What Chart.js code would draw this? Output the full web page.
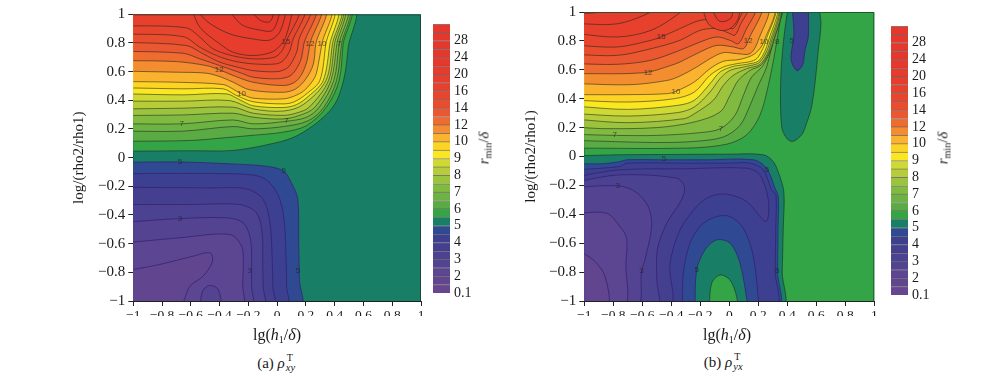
<!DOCTYPE html>
<html><head><meta charset="utf-8">
<script src="https://cdn.jsdelivr.net/npm/chart.js@4"></script>
<style>
html,body{margin:0;padding:0;background:#fff;width:1000px;height:378px;overflow:hidden}
canvas{position:absolute;display:block}
.t{position:absolute;font:16px "Liberation Serif",serif;color:#1a1a1a;white-space:nowrap;transform:translate(-50%,-50%)}
.t sub{font-size:10px;vertical-align:-3px;line-height:0}
.r{transform:translate(-50%,-50%) rotate(-90deg);font-size:15px}
.st{display:inline-block;position:relative;width:18px;height:10px}
.st b{position:absolute;left:2px;top:-6px;font-weight:normal;font-size:10px}
.st u{position:absolute;left:1px;top:4px;text-decoration:none;font-style:italic;font-size:10.5px}
</style></head><body>
<canvas id="ca" width="370" height="330" style="left:60px;top:0"></canvas>
<canvas id="ba" width="50" height="320" style="left:430px;top:0"></canvas>
<canvas id="cb" width="372" height="330" style="left:512px;top:0"></canvas>
<canvas id="bb" width="50" height="320" style="left:888px;top:0"></canvas>
<div class="t" style="left:277px;top:335px">lg(<i>h</i><sub>1</sub>/<i>δ</i>)</div>
<div class="t" style="left:727px;top:335px">lg(<i>h</i><sub>1</sub>/<i>δ</i>)</div>
<div class="t" style="left:280px;top:363px;font-size:15px">(a) <i>ρ</i><span class="st"><b>T</b><u>xy</u></span></div>
<div class="t" style="left:727px;top:362px;font-size:15px">(b) <i>ρ</i><span class="st"><b>T</b><u>yx</u></span></div>
<div class="t r" style="left:484px;top:148px"><i>r</i><sub>min</sub>/<i>δ</i></div>
<div class="t r" style="left:943px;top:148px"><i>r</i><sub>min</sub>/<i>δ</i></div>
<script>
const AXIS_TICKS=[-1,-0.8,-0.6,-0.4,-0.2,0,0.2,0.4,0.6,0.8,1];
const BAR_LABELS=['0.1','2','3','4','5','6','7','8','9','10','12','14','16','20','24','28',''];
const LEVELS=[0.1,1,2,2.5,3,3.5,4,4.5,5,5.5,6,6.5,7,7.5,8,8.5,9,9.5,10,11,12,13,14,15,16,18,20,22,24,26,28,30];
const BAND_COLORS=['#66468f','#62458f','#5c4591','#534391','#4b4291','#453f90','#3d3f90','#2f4a92','#187f66','#33a547','#5aab44','#6cb344','#80ba41','#9cc33e','#b6cc3a','#cfd933','#fbe622','#fdd423','#fbb32f','#f48d30','#ee6c30','#ea5730','#e94d2e','#e8452e','#e7412d','#e63d2d','#e63b2d','#e5392d','#e5382c','#e5382c','#e5372c','#e5372c'];

// Panel (a): rising contours (upper left)
const A55=[[-1.05,.045],[-.6,.048],[-.31,.05],[-.07,.09],[.11,.14],[.251,.224],[.367,.328],[.425,.421],[.471,.584],[.494,.77],[.526,1.05]];
const A60=[[-1.05,.114],[-.6,.12],[-.35,.14],[-.19,.154],[.043,.178],[.205,.224],[.344,.354],[.431,.538],[.459,.795],[.5,1.05]];
const A65=[[-1.05,.185],[-.653,.185],[-.306,.217],[-.167,.201],[.043,.217],[.216,.257],[.325,.352],[.413,.538],[.448,.795],[.487,1.05]];
const A70=[[-1.05,.236],[-.66,.236],[-.306,.263],[-.167,.236],[.065,.254],[.205,.282],[.293,.352],[.394,.538],[.431,.795],[.473,1.05]];
const A75=[[-1.05,.294],[-.653,.298],[-.306,.31],[-.167,.282],[.043,.27],[.17,.3],[.263,.352],[.374,.538],[.415,.795],[.452,1.05]];
const A80=[[-1.05,.34],[-.653,.345],[-.306,.352],[-.167,.31],[.043,.295],[.13,.31],[.223,.352],[.357,.538],[.399,.795],[.44,1.05]];
const A85=[[-1.05,.394],[-.653,.394],[-.329,.398],[-.167,.34],[.043,.325],[.181,.37],[.339,.538],[.385,.795],[.428,1.05]];
const A90=[[-1.05,.445],[-.653,.438],[-.352,.445],[-.259,.403],[-.167,.362],[.043,.35],[.135,.37],[.22,.43],[.32,.538],[.367,.795],[.405,1.05]];
const A95=[[-1.05,.487],[-.653,.48],[-.375,.48],[-.282,.433],[-.167,.39],[.043,.375],[.12,.39],[.21,.45],[.297,.538],[.339,.795],[.38,1.05]];
const A100=[[-1.05,.531],[-.7,.526],[-.375,.51],[-.306,.478],[-.248,.445],[-.167,.415],[.043,.41],[.12,.43],[.19,.47],[.262,.56],[.286,.65],[.311,.795],[.36,1.05]];
const A110=[[-1.05,.603],[-.7,.596],[-.491,.589],[-.387,.561],[-.306,.526],[-.19,.473],[.043,.456],[.13,.48],[.2,.55],[.251,.65],[.269,.795],[.325,1.05]];
const A120=[[-1.05,.677],[-.7,.67],[-.491,.642],[-.403,.614],[-.306,.573],[-.167,.526],[.043,.503],[.12,.525],[.17,.58],[.209,.68],[.228,.795],[.29,1.05]];
const A130=[[-1.05,.742],[-.653,.728],[-.537,.689],[-.398,.642],[-.25,.59],[-.167,.561],[0,.55],[.09,.57],[.14,.63],[.17,.7],[.186,.795],[.255,1.05]];
const A140=[[-1.05,.805],[-.63,.782],[-.514,.724],[-.398,.666],[-.25,.625],[-.167,.607],[0,.6],[.07,.625],[.11,.68],[.14,.75],[.15,.82],[.22,1.05]];
const A150=[[-1.05,.863],[-.653,.844],[-.537,.77],[-.421,.712],[-.306,.675],[-.167,.654],[0,.655],[.05,.685],[.09,.75],[.105,.81],[.18,1.05]];
const A160=[[-1.05,.921],[-.63,.905],[-.537,.84],[-.444,.758],[-.306,.71],[-.167,.689],[-.02,.7],[.03,.74],[.061,.805],[.14,1.05]];
const A180=[[-.6,1.05],[-.537,.909],[-.398,.793],[-.306,.735],[-.167,.712],[-.04,.735],[.02,.78],[.06,.84],[.115,1.05]];
const A200=[[-.58,1.05],[-.479,.944],[-.329,.863],[-.167,.828],[-.05,.82],[.02,.88],[.07,1.05]];
const A220=[[-.35,1.05],[-.25,.93],[-.12,.89],[-.03,.89],[.03,1.05]];
const A240=[[-.2,1.05],[-.12,.96],[-.05,.95],[-.01,1.05]];
// Panel (a): falling contours (lower left)
const A_L50=[[-1.05,-.032],[-.676,-.03],[-.352,-.042],[-.074,-.06],[.046,-.095],[.111,-.2],[.144,-.292],[.15,-.6],[.155,-.85],[.157,-1.05]];
const A_L45=[[-1.05,-.111],[-.4,-.111],[-.144,-.125],[-.05,-.176],[.019,-.292],[.05,-.45],[.062,-.7],[.066,-.9],[.067,-1.05]];
const A_L40=[[-1.05,-.207],[-.468,-.211],[-.213,-.218],[-.097,-.292],[-.05,-.455],[-.035,-.7],[-.03,-.9],[-.028,-1.05]];
const A_L35=[[-1.05,-.327],[-.583,-.327],[-.26,-.327],[-.144,-.385],[-.105,-.524],[-.1,-.75],[-.097,-.9],[-.097,-1.05]];
const A_L30=[[-1.05,-.45],[-.676,-.425],[-.352,-.42],[-.236,-.455],[-.185,-.57],[-.178,-.8],[-.178,-.9],[-.178,-1.05]];
const A_L25=[[-1.05,-.594],[-.676,-.559],[-.329,-.536],[-.248,-.617],[-.235,-.733],[-.24,-.88],[-.248,-1.05]];
const A_L20=[[-1.05,-.79],[-.815,-.745],[-.583,-.687],[-.468,-.664],[-.449,-.722],[-.514,-.826],[-.606,-.896],[-.688,-1.05]];
const A_LOBE=[[-.537,-1.05],[-.518,-.93],[-.468,-.891],[-.41,-.919],[-.382,-1.05]];
const A_NOTES=[[-.664,.236,'7'],[.065,.254,'7'],[-.248,.445,'10'],[-.403,.614,'12'],[.061,.805,'15'],[.228,.795,'12'],[.311,.795,'10'],[.431,.795,'7'],[-.676,-.03,'5'],[.046,-.095,'5'],[-.676,-.425,'3'],[-.19,-.786,'3'],[.144,-.786,'5']];

// Panel (b): rising contours (upper left)
const B60=[[-1.05,.058],[-.294,.058],[-.018,.085],[.12,.15],[.211,.285],[.269,.492],[.315,.723],[.349,.93],[.362,1.05]];
const B65=[[-1.05,.111],[-.524,.097],[-.248,.104],[-.041,.135],[.074,.216],[.143,.354],[.2,.492],[.257,.619],[.315,.862],[.345,1.05]];
const B70=[[-1.05,.153],[-.78,.146],[-.5,.146],[-.202,.165],[-.06,.193],[.039,.285],[.097,.423],[.154,.55],[.234,.631],[.306,.797],[.335,1.05]];
const B75=[[-1.05,.204],[-.885,.193],[-.5,.2],[-.241,.239],[-.064,.308],[.005,.423],[.062,.527],[.143,.596],[.223,.636],[.297,.781],[.328,1.05]];
const B80=[[-1.05,.257],[-.7,.234],[-.31,.262],[-.241,.296],[-.11,.389],[-.041,.492],[.028,.562],[.12,.608],[.218,.642],[.287,.781],[.32,1.05]];
const B85=[[-1.05,.296],[-.7,.28],[-.356,.304],[-.241,.343],[-.133,.446],[-.064,.539],[.005,.596],[.12,.624],[.211,.654],[.28,.792],[.316,1.05]];
const B90=[[-1.05,.347],[-.7,.326],[-.356,.354],[-.241,.389],[-.133,.504],[-.064,.585],[.028,.624],[.12,.638],[.207,.666],[.271,.804],[.31,1.05]];
const B95=[[-1.05,.389],[-.7,.377],[-.38,.4],[-.241,.446],[-.133,.562],[-.041,.619],[.051,.642],[.154,.659],[.2,.689],[.257,.815],[.302,1.05]];
const B100=[[-1.05,.428],[-.7,.428],[-.425,.435],[-.368,.451],[-.241,.516],[-.133,.608],[-.041,.659],[.074,.672],[.177,.712],[.239,.797],[.295,1.05]];
const B110=[[-1.05,.504],[-.68,.497],[-.425,.527],[-.34,.557],[-.225,.619],[-.133,.677],[-.041,.719],[.051,.712],[.143,.712],[.2,.804],[.255,1.05]];
const B120=[[-1.05,.573],[-.586,.58],[-.4,.631],[-.34,.654],[-.202,.723],[-.087,.769],[.028,.758],[.097,.746],[.131,.804],[.21,1.05]];
const B130=[[-1.05,.642],[-.77,.638],[-.54,.666],[-.34,.735],[-.202,.792],[-.087,.827],[.005,.804],[.062,.781],[.108,.862],[.175,1.05]];
const B140=[[-1.05,.705],[-.77,.7],[-.54,.746],[-.34,.804],[-.202,.873],[-.087,.885],[.005,.85],[.039,.839],[.074,.908],[.13,1.05]];
const B150=[[-1.05,.769],[-.77,.758],[-.54,.804],[-.47,.827],[-.34,.885],[-.202,.942],[-.087,.942],[-.007,.896],[.028,.885],[.074,.965],[.1,1.05]];
const B160=[[-1.05,.85],[-.77,.827],[-.54,.873],[-.333,1],[-.3,1.05]];
const B180_L=[[-1.05,.919],[-.77,.919],[-.54,1],[-.5,1.05]];
const B200_L=[[-1.05,.99],[-.9,1],[-.8,1.05]];
const B160_C=[[-.191,1.05],[-.145,.919],[-.064,.873],[.005,.885],[.062,.954],[.074,1.05]];
const B180_C=[[-.133,1.05],[-.076,.942],[-.03,.935],[.016,.965],[.028,1.05]];
// Panel (b): teal lens and inner lobe at upper right
const B_LENS=[[.407,1.05],[.372,.783],[.354,.507],[.361,.207],[.395,.127],[.437,.104],[.499,.15],[.533,.23],[.568,.346],[.591,.507],[.614,.737],[.632,.922],[.614,1.05]];
const B_LOBE=[[.43,1.05],[.446,.852],[.425,.691],[.437,.634],[.469,.594],[.506,.634],[.522,.737],[.545,.829],[.545,1.05]];
// Panel (b): lower-left basin
const B_L55=[[-1.05,.005],[-.754,.012],[-.4,.014],[-.018,.016],[.234,.012],[.303,-.035],[.349,-.139],[.377,-.254],[.372,-.5],[.365,-.8],[.361,-1.05]];
const B_L50=[[-1.05,-.05],[-.869,-.05],[-.754,-.035],[-.708,-.023],[-.455,-.023],[-.15,-.023],[.166,-.023],[.257,-.081],[.315,-.219],[.338,-.277],[.336,-.5],[.333,-.8],[.331,-1.05]];
const B_L45=[[-1.05,-.092],[-.754,-.069],[-.708,-.046],[-.3,-.046],[0,-.046],[.143,-.046],[.234,-.092],[.292,-.231],[.322,-.266],[.32,-.5],[.317,-.8],[.315,-1.05]];
const B_L40=[[-1.05,-.139],[-.754,-.092],[-.3,-.085],[.12,-.081],[.211,-.127],[.269,-.3],[.253,-.45],[.12,-.312],[-.018,-.261],[-.133,-.277],[-.225,-.346],[-.34,-.508],[-.409,-.74],[-.416,-1.05]];
const B_L35=[[-1.05,-.173],[-.754,-.127],[-.363,-.15],[-.31,-.208],[-.329,-.3],[-.432,-.462],[-.497,-.647],[-.5,-.85],[-.501,-1.05]];
const B_L30=[[-1.05,-.212],[-.766,-.203],[-.651,-.242],[-.559,-.346],[-.536,-.485],[-.582,-.716],[-.605,-.792],[-.639,-1.05]];
const B_L25=[[-1.05,-.393],[-.846,-.393],[-.754,-.485],[-.708,-.566],[-.713,-.739],[-.726,-1.05]];
const B_L20=[[-1.05,-.647],[-.938,-.716],[-.857,-.831],[-.841,-1.05]];
const B_H45=[[-.324,-1.05],[-.317,-.808],[-.271,-.6],[-.191,-.473],[-.087,-.416],[.005,-.416],[.097,-.497],[.166,-.693],[.207,-1.05]];
const B_H50=[[-.237,-1.05],[-.225,-.785],[-.168,-.647],[-.087,-.577],[.005,-.6],[.074,-.739],[.131,-1.05]];
const B_H55=[[-.138,-1.05],[-.122,-.878],[-.064,-.82],[.005,-.855],[.051,-.97],[.055,-1.05]];
const B_NOTES=[[-.79,.15,'7'],[-.06,.193,'7'],[-.368,.451,'10'],[-.56,.58,'12'],[-.47,.827,'15'],[.131,.804,'12'],[.239,.797,'10'],[.33,.797,'8'],[.43,.8,'5'],[-.45,-.013,'5'],[.26,-.09,'5'],[-.77,-.203,'3'],[-.605,-.792,'3'],[-.225,-.785,'5'],[.33,-.79,'5']];

const TL=[-1.05,1.05], BL=[-1.05,-1.05], WHOLE=[[-1.05,-1.05],[1.05,-1.05],[1.05,1.05],[-1.05,1.05]];
const DARK='rgba(28,36,30,.62)', PURP='rgba(50,32,110,.8)', NONE='rgba(0,0,0,0)';
function band(lo){return BAND_COLORS[LEVELS.indexOf(lo)];}
function layers(list){
  return list.map((l,i)=>({
    data:(l.corner?l.pts.concat([l.corner]):l.pts).map(p=>({x:p[0],y:p[1]})),
    showLine:true,fill:'shape',backgroundColor:band(l.lo),borderColor:l.line||DARK,
    borderWidth:l.line===NONE?0:0.9,pointRadius:0,tension:l.line===NONE?0:0.32,capBezierPoints:false,
    clip:0,order:list.length-i
  }));
}
const up=(pts,lo)=>({pts,lo,corner:TL}), dn=(pts,lo,line)=>({pts,lo,corner:BL,line:line||PURP}), sh=(pts,lo,line)=>({pts,lo,line:line||DARK});
const PANEL_A=[{pts:WHOLE,lo:5,line:NONE},up(A55,5.5),up(A60,6),up(A65,6.5),up(A70,7),up(A75,7.5),up(A80,8),up(A85,8.5),up(A90,9),up(A95,9.5),up(A100,10),up(A110,11),up(A120,12),up(A130,13),up(A140,14),up(A150,15),up(A160,16),sh(A180,18),sh(A200,20),sh(A220,22),sh(A240,24),
  dn(A_L50,4.5),dn(A_L45,4),dn(A_L40,3.5),dn(A_L35,3),dn(A_L30,2.5),dn(A_L25,2),dn(A_L20,1),sh(A_LOBE,2.5,PURP)];
const PANEL_B=[{pts:WHOLE,lo:5.5,line:NONE},up(B60,6),up(B65,6.5),up(B70,7),up(B75,7.5),up(B80,8),up(B85,8.5),up(B90,9),up(B95,9.5),up(B100,10),up(B110,11),up(B120,12),up(B130,13),up(B140,14),up(B150,15),up(B160,16),up(B180_L,18),up(B200_L,20),sh(B160_C,16),sh(B180_C,18),sh(B_LENS,5),sh(B_LOBE,4,PURP),
  dn(B_L55,5,DARK),dn(B_L50,4.5),dn(B_L45,4),dn(B_L40,3.5),dn(B_L35,3),dn(B_L30,2.5),dn(B_L25,2),dn(B_L20,1),sh(B_H45,4.5,PURP),sh(B_H50,5,PURP),sh(B_H55,5.5)];

const serif='"Liberation Serif",serif';
const notesPlugin={id:'notes',afterDatasetsDraw(c,a,o){
  const g=c.ctx,x=c.scales.x,y=c.scales.y,ar=c.chartArea;
  g.save();g.font='8px "Liberation Sans",sans-serif';g.textAlign='center';g.textBaseline='middle';g.fillStyle='rgba(35,35,35,.72)';
  (o.items||[]).forEach(n=>g.fillText(n[2],x.getPixelForValue(n[0]),y.getPixelForValue(n[1])));
  g.strokeStyle=o.frame;g.lineWidth=1;g.beginPath();g.moveTo(ar.left,ar.top+.5);g.lineTo(ar.right-.5,ar.top+.5);g.lineTo(ar.right-.5,ar.bottom);g.stroke();
  g.restore();
}};
function contour(id,list,notes,pad,yw,frame){
  const fmt=v=>String(v).replace('-','\u2212');
  new Chart(document.getElementById(id),{type:'scatter',plugins:[notesPlugin],
    data:{datasets:layers(list)},
    options:{responsive:false,animation:false,events:[],layout:{padding:pad},
      plugins:{legend:{display:false},tooltip:{enabled:false},notes:{items:notes,frame}},
      scales:{
        x:{type:'linear',min:-1,max:1,afterBuildTicks:s=>{s.ticks=AXIS_TICKS.map(value=>({value}))},afterFit:s=>{s.height=15},
           grid:{drawOnChartArea:false,tickLength:5,color:'#222'},border:{color:'#222'},
           ticks:{autoSkip:false,maxRotation:0,padding:1,color:'#1a1a1a',font:{family:serif,size:13.5},callback:fmt}},
        y:{type:'linear',min:-1,max:1,afterBuildTicks:s=>{s.ticks=AXIS_TICKS.map(value=>({value}))},afterFit:s=>{s.width=yw},
           grid:{drawOnChartArea:false,tickLength:5,color:'#222'},border:{color:'#222'},
           title:{display:true,text:'log/(rho2/rho1)',color:'#1a1a1a',font:{family:serif,size:15},padding:{top:0,bottom:0}},
           ticks:{autoSkip:false,padding:3,color:'#1a1a1a',font:{family:serif,size:15},callback:fmt}}
      }}});
}
function colorbar(id,pad){
  new Chart(document.getElementById(id),{type:'bar',
    data:{labels:['r'],datasets:BAND_COLORS.map(c=>({data:[1],backgroundColor:c,borderColor:'rgba(40,40,40,.6)',borderWidth:{top:1,bottom:0,left:0,right:0},barPercentage:1,categoryPercentage:1}))},
    options:{responsive:false,animation:false,events:[],layout:{padding:pad},
      plugins:{legend:{display:false},tooltip:{enabled:false}},
      scales:{
        x:{stacked:true,display:false},
        y:{stacked:true,position:'right',min:0,max:32,afterFit:s=>{s.width=30},grid:{display:false,drawTicks:false},border:{display:false},
           afterBuildTicks:s=>{s.ticks=BAR_LABELS.map((_,i)=>({value:i*2}))},
           ticks:{autoSkip:false,padding:4,color:'#1a1a1a',font:{family:serif,size:14},callback:v=>BAR_LABELS[v/2]}}
      }}});
}
contour('ca',PANEL_A,A_NOTES,{left:10,right:9,top:14.3,bottom:14},63.3,'rgba(25,60,50,.85)');
contour('cb',PANEL_B,B_NOTES,{left:10,right:9.7,top:12,bottom:14},62.3,'rgba(20,80,40,.85)');
colorbar('ba',{left:3,right:0,top:24,bottom:27});
colorbar('bb',{left:3,right:0,top:26,bottom:25});
</script>
</body></html>
